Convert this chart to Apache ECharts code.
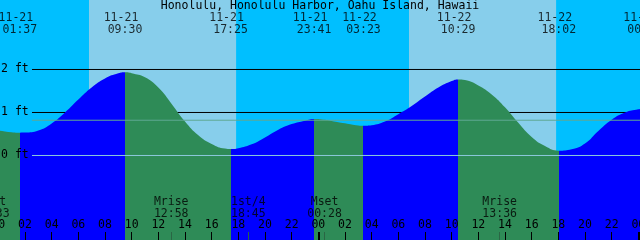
<!DOCTYPE html>
<html><head><meta charset="utf-8">
<script src="https://cdn.jsdelivr.net/npm/echarts@6.0.0/dist/echarts.min.js"></script>
<style>html,body{margin:0;padding:0;background:#00BFFF;overflow:hidden}#c{width:640px;height:240px}</style>
</head><body><div id="c"></div>
<script>
// ---- data (hours from 11-21 00:00, heights in ft) ----
const chartTitle = 'Honolulu, Honolulu Harbor, Oahu Island, Hawaii';
const tideHours = [0, 1, 1.6167, 2, 3, 4, 5, 6, 7, 8, 9, 9.5, 10, 11, 12, 13, 14, 15, 16, 17, 17.4167, 18, 19, 20, 21, 22, 23, 23.6833, 24.5, 25, 26, 27, 27.3833, 28, 29, 30, 31, 32, 33, 34, 34.4833, 35, 36, 37, 38, 39, 40, 41, 42.0333, 43, 44, 45, 46, 47, 48, 48.4667];
const tideFeet = [0.585, 0.54, 0.53, 0.532, 0.58, 0.745, 1.00, 1.30, 1.58, 1.79, 1.91, 1.935, 1.915, 1.82, 1.58, 1.20, 0.79, 0.47, 0.27, 0.16, 0.15, 0.17, 0.26, 0.42, 0.60, 0.73, 0.81, 0.85, 0.83, 0.805, 0.75, 0.70, 0.694, 0.705, 0.79, 0.96, 1.15, 1.37, 1.58, 1.73, 1.77, 1.755, 1.63, 1.42, 1.12, 0.76, 0.43, 0.22, 0.112, 0.145, 0.28, 0.57, 0.83, 1.00, 1.075, 1.09];
const extremeHours = [1.6167, 9.5, 17.4167, 23.6833, 27.3833, 34.4833, 42.0333, 48.4667];
const extremeDates = ['11-21', '11-21', '11-21', '11-21', '11-22', '11-22', '11-22', '11-23'];
const extremeTimes = ['01:37', '09:30', '17:25', '23:41', '03:23', '10:29', '18:02', '00:28'];
const sunriseHours = [6.8, 30.8];
const sunsetHours = [17.8333, 41.8333];
const moonHours = [-0.45, 12.9667, 18.75, 24.4667, 37.6];
const moonNames = ['Mset', 'Mrise', '1st/4', 'Mset', 'Mrise'];
const moonTimes = ['23:33', '12:58', '18:45', '00:28', '13:36'];
const hourTicks = [0, 2, 4, 6, 8, 10, 12, 14, 16, 18, 20, 22, 24, 26, 28, 30, 32, 34, 36, 38, 40, 42, 44, 46, 48];
const midnightTicks = [0, 24, 48];
const levelLabels = [0, 1, 2];
const gridLevels = [1, 2];
const datumLevel = 0;
const mslLevel = 0.82;

// ---- layout / style constants ----
const X_MIN = 0, X_MAX = 48.125;
const Y_MIN = -1.96512, Y_MAX = 3.61628;
const LINE_START = 2.525;
const FONT = 'DejaVu Sans Mono';
const FS = 11.5;
const NIGHT = '#00BFFF', DAY = '#87CEEB', FLOOD = '#0000FF', EBB = '#2E8B57';

const chart = echarts.init(document.getElementById('c'), null, {renderer: 'canvas'});

const bounds = [-10].concat(extremeHours, [60]);
const pieces = [];
for (let i = 0; i < bounds.length - 1; i++) {
  pieces.push({gte: bounds[i], lt: bounds[i + 1], color: i % 2 === 0 ? EBB : FLOOD});
}

const dayAreas = sunriseHours.map((s, i) => [{xAxis: s}, {xAxis: sunsetHours[i]}]);
const pad2 = v => String(((v % 24) + 24) % 24).padStart(2, '0');

const series = [];
gridLevels.forEach((lvl, i) => {
  const s = {
    type: 'line', z: 1.5, silent: true, symbol: 'none', animation: false,
    data: [[LINE_START, lvl], [X_MAX, lvl]],
    lineStyle: {color: '#000', width: 1}
  };
  if (i === 0) {
    s.markArea = {
      z: 0, silent: true, label: {show: false},
      itemStyle: {color: DAY, opacity: 1, borderWidth: 0},
      data: dayAreas
    };
  }
  series.push(s);
});
const tideIndex = series.length;
series.push({
  type: 'line', z: 3, silent: true, showSymbol: false, symbol: 'none', animation: false,
  smooth: 0.5,
  data: tideHours.map((h, i) => [h, tideFeet[i]]),
  lineStyle: {width: 0},
  areaStyle: {opacity: 1, origin: 'start'}
});
series.push({
  type: 'line', z: 4, silent: true, symbol: 'none', animation: false,
  data: [[LINE_START, datumLevel], [X_MAX, datumLevel]],
  lineStyle: {color: '#8CC8DC', width: 1}
});
series.push({
  type: 'line', z: 4, silent: true, symbol: 'none', animation: false,
  data: [[LINE_START, mslLevel], [X_MAX, mslLevel]],
  lineStyle: {color: '#5FA893', width: 1}
});
series.push({
  type: 'scatter', z: 5, silent: true, clip: false, animation: false,
  symbolSize: 0, itemStyle: {color: 'rgba(0,0,0,0)'},
  data: extremeHours.map(h => [h, Y_MAX]),
  label: {
    show: true, position: 'inside', offset: [0, 24], align: 'center', verticalAlign: 'middle',
    color: '#000', fontFamily: FONT, fontSize: FS, lineHeight: 12,
    formatter: p => '{d|' + extremeDates[p.dataIndex] + '}\n{t|' + extremeTimes[p.dataIndex] + '}',
    rich: {
      d: {color: '#000', fontFamily: FONT, fontSize: FS, lineHeight: 12, padding: [0, 8, 0, 0]},
      t: {color: '#000', fontFamily: FONT, fontSize: FS, lineHeight: 12}
    }
  }
});
series.push({
  type: 'scatter', z: 5, silent: true, clip: false, animation: false,
  symbolSize: 0, itemStyle: {color: 'rgba(0,0,0,0)'},
  data: moonHours.map(h => [h, Y_MIN]),
  label: {
    show: true, position: 'inside', offset: [0, -32], align: 'center', verticalAlign: 'middle',
    color: '#000', fontFamily: FONT, fontSize: FS, lineHeight: 11.5,
    formatter: p => '{a|' + moonNames[p.dataIndex] + '}\n{a|' + moonTimes[p.dataIndex] + '}',
    rich: {a: {color: '#000', fontFamily: FONT, fontSize: FS, lineHeight: 11.5}}
  }
});

const baseX = {
  type: 'value', min: X_MIN, max: X_MAX, position: 'bottom', z: 10,
  axisLine: {show: false, onZero: false}, splitLine: {show: false}
};

chart.setOption({
  animation: false,
  backgroundColor: NIGHT,
  title: {
    text: chartTitle, left: 'center', top: 0, padding: 0,
    textStyle: {fontFamily: FONT, fontSize: FS, fontWeight: 'normal', color: '#000', lineHeight: 12}
  },
  grid: {left: -1.667, right: 0, top: 0, bottom: 0, containLabel: false, outerBoundsMode: 'none', show: false},
  xAxis: [
    Object.assign({}, baseX, {
      axisTick: {show: true, inside: true, length: 8, customValues: hourTicks, lineStyle: {color: '#000', width: 1}},
      axisLabel: {show: true, inside: true, margin: 15, customValues: hourTicks, formatter: v => pad2(v),
        color: '#000', fontFamily: FONT, fontSize: FS, align: 'center', verticalAlign: 'middle'}
    }),
    Object.assign({}, baseX, {
      z: 11,
      axisLabel: {show: false},
      axisTick: {show: true, inside: true, length: 8, customValues: midnightTicks, lineStyle: {color: '#000', width: 2}}
    }),
    Object.assign({}, baseX, {
      z: 11,
      axisLabel: {show: false},
      axisTick: {show: true, inside: true, length: 8, customValues: moonHours.filter(h => h >= X_MIN && h <= X_MAX), lineStyle: {color: '#2A6644', width: 1}}
    })
  ],
  yAxis: {
    type: 'value', min: Y_MIN, max: Y_MAX, z: 10,
    axisLine: {show: false, onZero: false}, axisTick: {show: false}, splitLine: {show: false},
    axisLabel: {show: true, inside: true, margin: 2.7, customValues: levelLabels, formatter: v => v + ' ft',
      color: '#000', fontFamily: FONT, fontSize: FS, align: 'left', verticalAlign: 'middle'}
  },
  visualMap: {
    type: 'piecewise', show: false, dimension: 0, seriesIndex: tideIndex, pieces: pieces
  },
  series: series
});
</script>
</body></html>
